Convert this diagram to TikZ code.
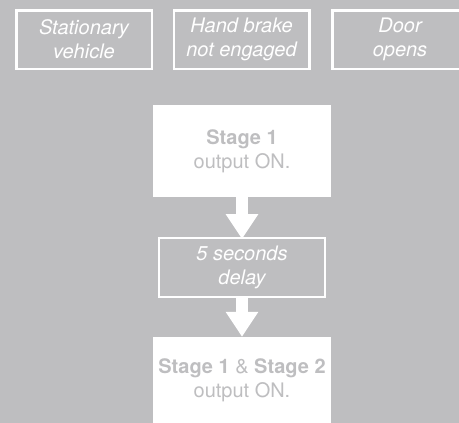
\documentclass[tikz,border=0pt]{standalone}
\usepackage{fontspec}
\setmainfont{TeX Gyre Heros}
\usetikzlibrary{arrows.meta}
\definecolor{bg}{RGB}{190,190,192}
\tikzset{
  cond/.style={draw=white, line width=2.5pt, minimum width=135.5pt, minimum height=58.5pt,
    inner sep=0pt, align=center, text=white, font=\fontsize{20}{24}\selectfont\itshape},
  outbox/.style={fill=white, draw=none, inner sep=0pt, align=center, text=bg,
    font=\fontsize{20}{24}\selectfont},
  bigarrow/.style={draw=white, line width=12pt, -{Triangle[width=31pt,length=25pt]}}
}
\begin{document}
\begin{tikzpicture}[x=1pt,y=-1pt]
\fill[bg] (0,0) rectangle (459,423);
\useasboundingbox (0,0) rectangle (459,423);
\node[cond] (c1) at (84,39.5) {Stationary\\vehicle};
\node[cond] (c2) at (241.5,39.5) {Hand brake\\not engaged};
\node[cond] (c3) at (400,39.5) {Door\\opens};
\node[outbox, minimum width=178pt, minimum height=92pt] (s1) at (242,151) {\textbf{Stage 1}\\output ON.};
\node[cond, line width=2pt, minimum width=166pt, minimum height=59pt] (d) at (242,267.5) {5 seconds\\delay};
\node[outbox, minimum width=178pt, minimum height=86pt] (s2) at (242,380) {\textbf{Stage 1} \& \textbf{Stage 2}\\output ON.};
\draw[bigarrow] (s1.south) -- ([yshift=-2pt]d.north);
\draw[bigarrow] (d.south) -- (s2.north);
\end{tikzpicture}
\end{document}
